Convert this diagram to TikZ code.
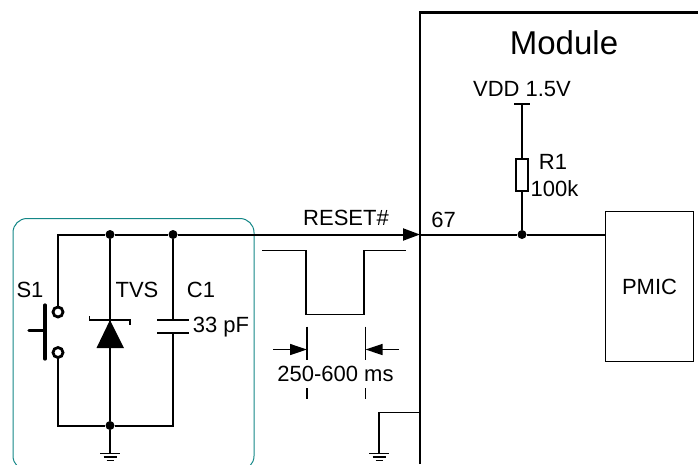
\documentclass[tikz,border=0pt]{standalone}
\usepackage{fontspec}
\setmainfont{Liberation Sans}
\usetikzlibrary{arrows.meta,positioning,fit,calc}
\definecolor{boxteal}{RGB}{20,135,135}

\begin{document}
\begin{tikzpicture}[x=1pt,y=-1pt,
    dot/.style={fill=black,circle,minimum width=9pt,inner sep=0pt},
    contact/.style={draw=black,line width=2.8pt,fill=white,circle,minimum width=10pt,inner sep=0pt},
    wire/.style={line width=2pt},
    thin wire/.style={line width=1.3pt},
    lbl/.style={inner sep=0pt,font=\fontsize{22}{24}\selectfont},
    gnd/.style={line width=1.4pt}]
    \useasboundingbox (0,0) rectangle (698,464);

    % input circuit
    \begin{scope}
      \clip (0,0) rectangle (698,464);
      \draw[boxteal,line width=1pt,rounded corners=14pt] (13,470) rectangle (254,218.5);
    \end{scope}

    \node[dot] (j1) at (110,234.5) {};
    \node[dot] (j2) at (173,234.5) {};
    \node[dot] (j3) at (110,425.5) {};
    \coordinate (tl) at (58,234.5);
    \coordinate (bl) at (58,425.5);
    \coordinate (br) at (173,425.5);
    \coordinate (pin) at (420,234.5);
    \coordinate (c1top) at (173,320);
    \coordinate (c1bot) at (173,332.5);

    \draw[wire] (58,312) -- (tl) -- (j1) -- (j2);
    \draw[wire,-{Triangle[length=17pt,width=12pt]}] (j2) -- (pin);
    \draw[wire] (58,352.5) -- (bl) -- (j3) -- (br) -- (c1bot);
    \draw[wire] (j2) -- (c1top);
    \draw[wire] (j1) -- (j3);
    \node[contact] (s1) at (58,312) {};
    \node[contact] (s2) at (58,352.5) {};

    % switch
    \coordinate (bar1) at (45,305);
    \coordinate (bar2) at (45,359);
    \coordinate (push) at (29,330.5);
    \coordinate (pushend) at (45,330.5);
    \draw[line width=3.2pt,line cap=round] (bar1) -- (bar2);
    \draw[line width=3.2pt,line cap=round] (push) -- (pushend);

    % tvs
    \coordinate (tvsa) at (110,320);
    \coordinate (tvsl) at (96.5,348);
    \coordinate (tvsr) at (124,348);
    \fill (tvsa) -- (tvsl) -- (tvsr) -- cycle;
    \draw[line width=1.5pt] (89.5,316) -- (89.5,320) -- (130,320) -- (130,325);

    % capacitor
    \draw[wire] (157,320) -- (189,320);
    \draw[wire] (157,332.5) -- (189,332.5);

    % grounds
    \coordinate (g1) at (110,453.5);
    \coordinate (g2) at (379,453.5);
    \coordinate (gt) at (420,412.5);
    \coordinate (gc) at (379,412.5);
    \draw[thin wire] (j3) -- (g1);
    \draw[thin wire] (gt) -- (gc) -- (g2);
    \foreach \g in {g1,g2} {
      \draw[gnd] ($(\g)+(-10,0)$) -- ($(\g)+(10,0)$);
      \draw[gnd] ($(\g)+(-6.5,3.5)$) -- ($(\g)+(6.5,3.5)$);
      \draw[gnd] ($(\g)+(-3.5,7)$) -- ($(\g)+(3.5,7)$);
    }

    % pulse
    \draw[line width=1.4pt] (262,250.5) -- (306,250.5) -- (306,314.5) -- (364,314.5) -- (364,250.5) -- (405.5,250.5);

    % width marks
    \coordinate (m1) at (307,349.5);
    \coordinate (m2) at (365.5,349.5);
    \coordinate (a1) at (273,349.5);
    \coordinate (a2) at (399,349.5);
    \draw[thin wire] (307,326.5) -- (307,360);
    \draw[thin wire] (365.5,326.5) -- (365.5,360);
    \draw[thin wire] (307,388) -- (307,399);
    \draw[thin wire] (365.5,388) -- (365.5,399);
    \draw[thin wire,-{Triangle[length=17pt,width=11pt]}] (a1) -- (m1);
    \draw[thin wire,-{Triangle[length=17pt,width=11pt]}] (a2) -- (m2);

    % module
    \draw[line width=2.6pt] (420,464) -- (420,12.5) -- (698,12.5);
    \node[dot] (j4) at (522,234.5) {};
    \node[draw,line width=1pt,inner sep=0pt,minimum width=87.5pt,minimum height=150.5pt,lbl] (pmic) at (649.5,286.5) {PMIC};
    \node[draw,line width=1.4pt,fill=white,inner sep=0pt,minimum width=12pt,minimum height=32pt] (r1) at (522,175) {};
    \coordinate (vdd) at (522,104);
    \draw[wire] (pin) -- (j4) -- (pmic.west |- j4);
    \draw[wire] (j4) -- (r1) -- (vdd);
    \draw[wire] (514,104) -- (530,104);

    \node[lbl] (ls1) at (30,290) {S1};
    \node[lbl] (ltvs) at (137,290) {TVS};
    \node[lbl] (lc1) at (201,290) {C1};
    \node[lbl] (lc1v) at (221,327) {33 pF};
    \node[lbl] (lreset) at (346,218) {RESET\#};
    \node[lbl] (lpin) at (443.5,220) {67};
    \node[lbl] (lwidth) at (335.5,374) {250-600 ms};
    \node[lbl] (lvdd) at (522,89) {VDD 1.5V};
    \node[lbl] (lr1) at (553,162) {R1};
    \node[lbl] (lr1v) at (554.5,189) {100k};
    \node[inner sep=0pt,font=\fontsize{33}{38}\selectfont] (lmod) at (564,43) {Module};
  \end{tikzpicture}
\end{document}
